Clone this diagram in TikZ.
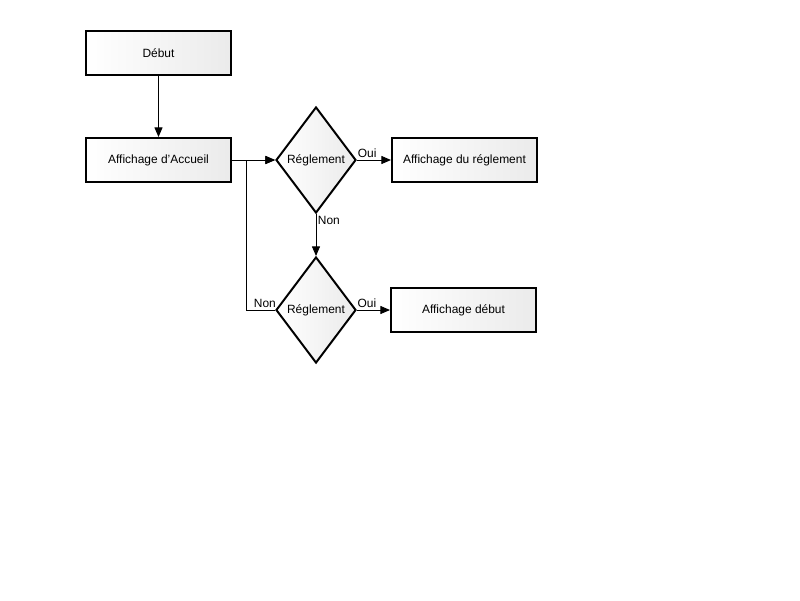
\documentclass[tikz,border=0pt]{standalone}
\usepackage{fontspec}
\setmainfont{Liberation Sans}
\usetikzlibrary{shapes.geometric, arrows.meta}

\begin{document}
\begin{tikzpicture}[x=0.025cm, y=-0.025cm, >={Triangle[length=2.4mm, width=2mm]},
            every node/.style={font=\fontsize{8.5}{10}\selectfont},
            box/.style={draw, line width=1.4pt, left color=white, right color=black!8,
                minimum width=3.625cm, minimum height=1.1cm, inner sep=0pt},
            test/.style={draw, diamond, line width=1.4pt, left color=white, right color=black!8,
                minimum width=2cm, minimum height=2.65cm, inner sep=0pt},
            lbl/.style={inner sep=1pt, font=\fontsize{8.5}{9}\selectfont}]
            \useasboundingbox (0, 0) rectangle (800, 600);
            \node[box](debut) at (158.5, 53) {Début};
            \node[box](accueil) at (158.5, 160) {Affichage d'Accueil};
            \node[test](regl1) at (316, 160) {Réglement};
            \node[box](affregl) at (464.5, 160) {Affichage du réglement};
            \node[test](regl2) at (316, 310) {Réglement};
            \node[box](affdebut) at (463.5, 310) {Affichage début};
            \coordinate(jn) at (246, 160);

            \begin{scope}[->, line width=0.7pt]
                \draw(debut)--(accueil);
                \draw(accueil)--(regl1);
                \draw(regl1)--node[lbl, above, pos=0.3]{Oui}(affregl);
                \draw(regl1)--node[lbl, right, pos=0.15]{Non}(regl2);
                \draw(regl2)--node[lbl, above, pos=0.3]{Oui}(affdebut);
                \draw(regl2.west)--node[lbl, above, pos=0.35]{Non}(regl2.west -| jn)--(jn)--(regl1);
            \end{scope}
        \end{tikzpicture}
\end{document}
